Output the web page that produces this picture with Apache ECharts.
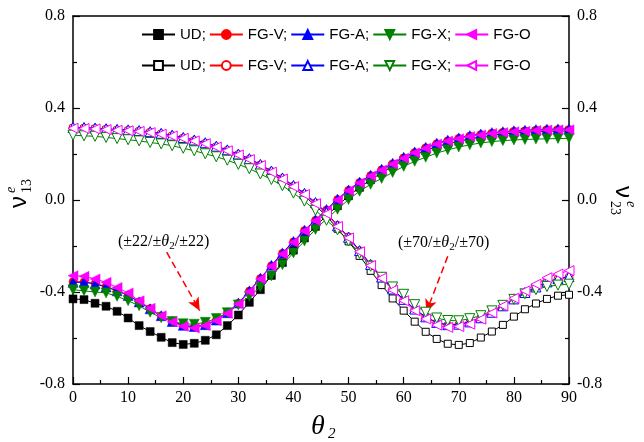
<!DOCTYPE html>
<html><head><meta charset="utf-8">
<script src="https://cdn.jsdelivr.net/npm/echarts@6/dist/echarts.min.js"></script>
<style>html,body{margin:0;padding:0;background:#fff}#c{width:644px;height:442px}</style>
</head><body><div id="c"></div>
<script>
// theta_2 (deg)
const theta = [0,2,4,6,8,10,12,14,16,18,20,22,24,26,28,30,32,34,36,38,40,42,44,46,48,50,52,54,56,58,60,62,64,66,68,70,72,74,76,78,80,82,84,86,88,90];

// nu13 (filled markers, left axis)
const ud13  = [-0.430,-0.433,-0.449,-0.462,-0.484,-0.513,-0.546,-0.572,-0.597,-0.620,-0.628,-0.623,-0.610,-0.586,-0.546,-0.500,-0.445,-0.390,-0.328,-0.272,-0.218,-0.165,-0.115,-0.068,-0.025,0.018,0.055,0.088,0.118,0.147,0.172,0.195,0.215,0.232,0.245,0.255,0.266,0.274,0.281,0.287,0.291,0.294,0.297,0.299,0.300,0.300];
const fgv13 = [-0.355,-0.356,-0.363,-0.376,-0.394,-0.414,-0.442,-0.472,-0.503,-0.528,-0.546,-0.552,-0.543,-0.523,-0.491,-0.449,-0.396,-0.341,-0.286,-0.232,-0.182,-0.133,-0.088,-0.043,0.002,0.042,0.076,0.106,0.132,0.158,0.184,0.207,0.227,0.245,0.258,0.268,0.278,0.285,0.291,0.295,0.299,0.301,0.304,0.306,0.307,0.307];
const fga13 = [-0.358,-0.358,-0.365,-0.378,-0.395,-0.415,-0.443,-0.473,-0.503,-0.528,-0.545,-0.550,-0.542,-0.522,-0.490,-0.448,-0.395,-0.340,-0.284,-0.230,-0.180,-0.131,-0.086,-0.041,0.004,0.044,0.078,0.108,0.134,0.160,0.186,0.209,0.229,0.247,0.260,0.270,0.280,0.287,0.293,0.297,0.301,0.303,0.306,0.308,0.309,0.309];
const fgx13 = [-0.390,-0.395,-0.400,-0.404,-0.419,-0.438,-0.460,-0.488,-0.512,-0.528,-0.538,-0.540,-0.532,-0.515,-0.490,-0.456,-0.419,-0.378,-0.330,-0.281,-0.230,-0.178,-0.128,-0.082,-0.040,0.002,0.038,0.068,0.094,0.120,0.146,0.168,0.186,0.204,0.218,0.230,0.240,0.248,0.254,0.258,0.261,0.263,0.265,0.266,0.267,0.268];
const fgo13 = [-0.329,-0.332,-0.343,-0.358,-0.380,-0.404,-0.438,-0.471,-0.503,-0.530,-0.549,-0.556,-0.546,-0.525,-0.493,-0.452,-0.399,-0.343,-0.288,-0.235,-0.184,-0.135,-0.090,-0.045,0.000,0.040,0.074,0.104,0.130,0.156,0.182,0.205,0.225,0.243,0.256,0.266,0.276,0.283,0.289,0.293,0.297,0.299,0.302,0.304,0.305,0.305];

// nu23 (hollow markers, right axis)
const ud23  = [0.310,0.309,0.307,0.304,0.301,0.298,0.295,0.290,0.283,0.275,0.265,0.254,0.242,0.227,0.211,0.192,0.171,0.145,0.116,0.085,0.052,0.017,-0.024,-0.070,-0.125,-0.180,-0.243,-0.308,-0.370,-0.428,-0.481,-0.529,-0.573,-0.604,-0.625,-0.630,-0.622,-0.598,-0.572,-0.543,-0.507,-0.475,-0.450,-0.430,-0.416,-0.412];
const fgv23 = [0.314,0.313,0.311,0.308,0.305,0.303,0.300,0.295,0.288,0.280,0.270,0.259,0.247,0.232,0.216,0.198,0.178,0.153,0.124,0.094,0.061,0.027,-0.013,-0.057,-0.110,-0.160,-0.220,-0.280,-0.335,-0.387,-0.434,-0.476,-0.510,-0.535,-0.545,-0.543,-0.533,-0.514,-0.490,-0.462,-0.432,-0.404,-0.380,-0.358,-0.344,-0.336];
const fga23 = [0.316,0.315,0.313,0.310,0.307,0.305,0.302,0.297,0.290,0.282,0.272,0.261,0.249,0.234,0.218,0.200,0.180,0.155,0.126,0.096,0.063,0.029,-0.011,-0.055,-0.112,-0.162,-0.220,-0.280,-0.335,-0.387,-0.432,-0.474,-0.508,-0.532,-0.542,-0.540,-0.530,-0.512,-0.488,-0.460,-0.430,-0.402,-0.378,-0.356,-0.342,-0.333];
const fgx23 = [0.282,0.279,0.277,0.272,0.267,0.262,0.257,0.250,0.244,0.236,0.225,0.214,0.201,0.188,0.173,0.155,0.136,0.113,0.089,0.062,0.030,-0.005,-0.045,-0.088,-0.130,-0.178,-0.232,-0.288,-0.336,-0.378,-0.410,-0.455,-0.488,-0.513,-0.524,-0.525,-0.516,-0.503,-0.482,-0.458,-0.432,-0.408,-0.390,-0.376,-0.370,-0.366];
const fgo23 = [0.312,0.311,0.309,0.306,0.303,0.301,0.298,0.293,0.286,0.278,0.268,0.257,0.245,0.230,0.214,0.196,0.176,0.150,0.121,0.091,0.058,0.024,-0.016,-0.060,-0.115,-0.165,-0.225,-0.285,-0.340,-0.392,-0.438,-0.481,-0.517,-0.544,-0.554,-0.550,-0.540,-0.518,-0.491,-0.460,-0.427,-0.395,-0.366,-0.338,-0.322,-0.307];

// legend labels
const legendRow1 = ['UD;','FG-V;','FG-A;','FG-X;','FG-O'];
const legendRow2 = ['UD;','FG-V;','FG-A;','FG-X;','FG-O'];
// axis ticks
const xTicks = {min:0, max:90, interval:10};
const yTicks = {min:-0.8, max:0.8, interval:0.4};
// annotation arrows (data coords: [start],[end])
const arrows = [[[17.0,-0.227],[23.0,-0.481]], [[68.0,-0.245],[64.1,-0.488]]];

const colors = ['#000000','#ff0000','#0000ff','#008000','#ff00ff'];
const symbols = [['rect',0,8],['circle',0,8],['triangle',0,10],['triangle',180,10],['triangle',90,10]];
const ids13 = ['UD13','FGV13','FGA13','FGX13','FGO13'];
const ids23 = ['UD23','FGV23','FGA23','FGX23','FGO23'];
const data13 = [ud13,fgv13,fga13,fgx13,fgo13];
const data23 = [ud23,fgv23,fga23,fgx23,fgo23];
const labelMap = {};
ids13.forEach((id,i)=>labelMap[id]=legendRow1[i]);
ids23.forEach((id,i)=>labelMap[id]=legendRow2[i]);

const series = [];
data13.forEach((arr,i)=>{
  series.push({
    name: ids13[i], type:'line', yAxisIndex:0,
    data: theta.map((t,k)=>[t,arr[k]]),
    symbol: symbols[i][0], symbolRotate: symbols[i][1], symbolSize: symbols[i][2],
    itemStyle:{color:colors[i], borderColor:colors[i], borderWidth:0.5},
    lineStyle:{color:colors[i], width:1},
    emphasis:{disabled:true}, z: 2+i
  });
});
data23.forEach((arr,i)=>{
  series.push({
    name: ids23[i], type:'line', yAxisIndex:1,
    data: theta.map((t,k)=>[t,arr[k]]),
    symbol: symbols[i][0], symbolRotate: symbols[i][1], symbolSize: symbols[i][2]-(i===0?1:0),
    itemStyle:{color:'#ffffff', borderColor:colors[i], borderWidth:1},
    lineStyle:{color:colors[i], width:1},
    emphasis:{disabled:true}, z: 8+i
  });
});
series[4].markLine = {
  silent:true, symbol:['none','arrow'], symbolSize:[9,13],
  lineStyle:{color:'#ff0000', type:[7,4], width:1.5},
  label:{show:false}, emphasis:{disabled:true},
  data: arrows.map(a=>[{coord:a[0]},{coord:a[1]}])
};

const serif = 'Liberation Serif';
const sans = 'Liberation Sans';
const legendBase = {
  orient:'horizontal', left:141, itemWidth:33, itemHeight:11, itemGap:3, padding:0,
  formatter: n=>labelMap[n], selectedMode:false,
  textStyle:{fontFamily:sans, fontSize:15, color:'#000'}
};

function yAx(pos){
  return {
    type:'value', position:pos, min:yTicks.min, max:yTicks.max, interval:yTicks.interval,
    axisLine:{show:true, onZero:false, lineStyle:{color:'#000', width:1.5}},
    axisTick:{show:true, inside:true, length:7, lineStyle:{color:'#000', width:1.2}},
    minorTick:{show:true, splitNumber:2, length:4, lineStyle:{color:'#000', width:1.2}},
    axisLabel:{fontFamily:serif, fontSize:16, color:'#000', margin:8, formatter:v=>v.toFixed(1)},
    splitLine:{show:false}
  };
}

const richAnn = {
  n:{fontFamily:serif, fontSize:16, color:'#000', lineHeight:20},
  i:{fontFamily:serif, fontSize:16, fontStyle:'italic', color:'#000', lineHeight:20},
  s:{fontFamily:serif, fontSize:11, color:'#000', lineHeight:12, verticalAlign:'bottom'}
};

const chart = echarts.init(document.getElementById('c'), null, {renderer:'canvas'});
chart.setOption({
  animation:false,
  backgroundColor:'#fff',
  grid:{left:73, top:16, width:496, height:368, containLabel:false},
  xAxis:[
    {type:'value', position:'bottom', min:xTicks.min, max:xTicks.max, interval:xTicks.interval,
     axisLine:{show:true, onZero:false, lineStyle:{color:'#000', width:1.5}},
     axisTick:{show:true, inside:true, length:7, lineStyle:{color:'#000', width:1.2}},
     minorTick:{show:true, splitNumber:2, length:4, lineStyle:{color:'#000', width:1.2}},
     axisLabel:{fontFamily:serif, fontSize:16, color:'#000', margin:6},
     splitLine:{show:false}},
    {type:'value', position:'top', min:xTicks.min, max:xTicks.max,
     axisLine:{show:true, onZero:false, lineStyle:{color:'#000', width:1.5}},
     axisTick:{show:false}, axisLabel:{show:false}, splitLine:{show:false}}
  ],
  yAxis:[yAx('left'), yAx('right')],
  legend:[
    Object.assign({}, legendBase, {top:27, data: ids13}),
    Object.assign({}, legendBase, {top:58, data: ids23})
  ],
  series: series,
  graphic:[
    {type:'group', x:19, y:208, rotation:Math.PI/2, silent:true, children:[
      {type:'text', x:0, y:0, style:{text:'ν', font:'24px "Liberation Sans"', fill:'#000', textAlign:'left', align:'left', textVerticalAlign:'middle', verticalAlign:'middle'}},
      {type:'text', x:15, y:-8, style:{text:'e', font:'italic 14px "Liberation Serif"', fill:'#000', textAlign:'left', align:'left', textVerticalAlign:'middle', verticalAlign:'middle'}},
      {type:'text', x:15, y:8, style:{text:'13', font:'14px "Liberation Serif"', fill:'#000', textAlign:'left', align:'left', textVerticalAlign:'middle', verticalAlign:'middle'}}
    ]},
    {type:'group', x:623, y:186, rotation:-Math.PI/2, silent:true, children:[
      {type:'text', x:0, y:0, style:{text:'ν', font:'24px "Liberation Sans"', fill:'#000', textAlign:'left', align:'left', textVerticalAlign:'middle', verticalAlign:'middle'}},
      {type:'text', x:15, y:-8, style:{text:'e', font:'italic 14px "Liberation Serif"', fill:'#000', textAlign:'left', align:'left', textVerticalAlign:'middle', verticalAlign:'middle'}},
      {type:'text', x:15, y:8, style:{text:'23', font:'14px "Liberation Serif"', fill:'#000', textAlign:'left', align:'left', textVerticalAlign:'middle', verticalAlign:'middle'}}
    ]},
    {type:'text', x:311, y:427, silent:true, style:{text:'θ', font:'italic 28px "Liberation Serif"', fill:'#000', textAlign:'left', align:'left', textVerticalAlign:'middle', verticalAlign:'middle'}},
    {type:'text', x:328, y:434, silent:true, style:{text:'2', font:'italic 15px "Liberation Serif"', fill:'#000', textAlign:'left', align:'left', textVerticalAlign:'middle', verticalAlign:'middle'}},
    {type:'text', x:118, y:242, silent:true, style:{text:'{n|(±22/±}{i|θ}{s|2}{n|/±22)}', rich:richAnn, textAlign:'left', align:'left', textVerticalAlign:'middle', verticalAlign:'middle'}},
    {type:'text', x:398, y:243, silent:true, style:{text:'{n|(±70/±}{i|θ}{s|2}{n|/±70)}', rich:richAnn, textAlign:'left', align:'left', textVerticalAlign:'middle', verticalAlign:'middle'}}
  ]
});
</script>
</body></html>
